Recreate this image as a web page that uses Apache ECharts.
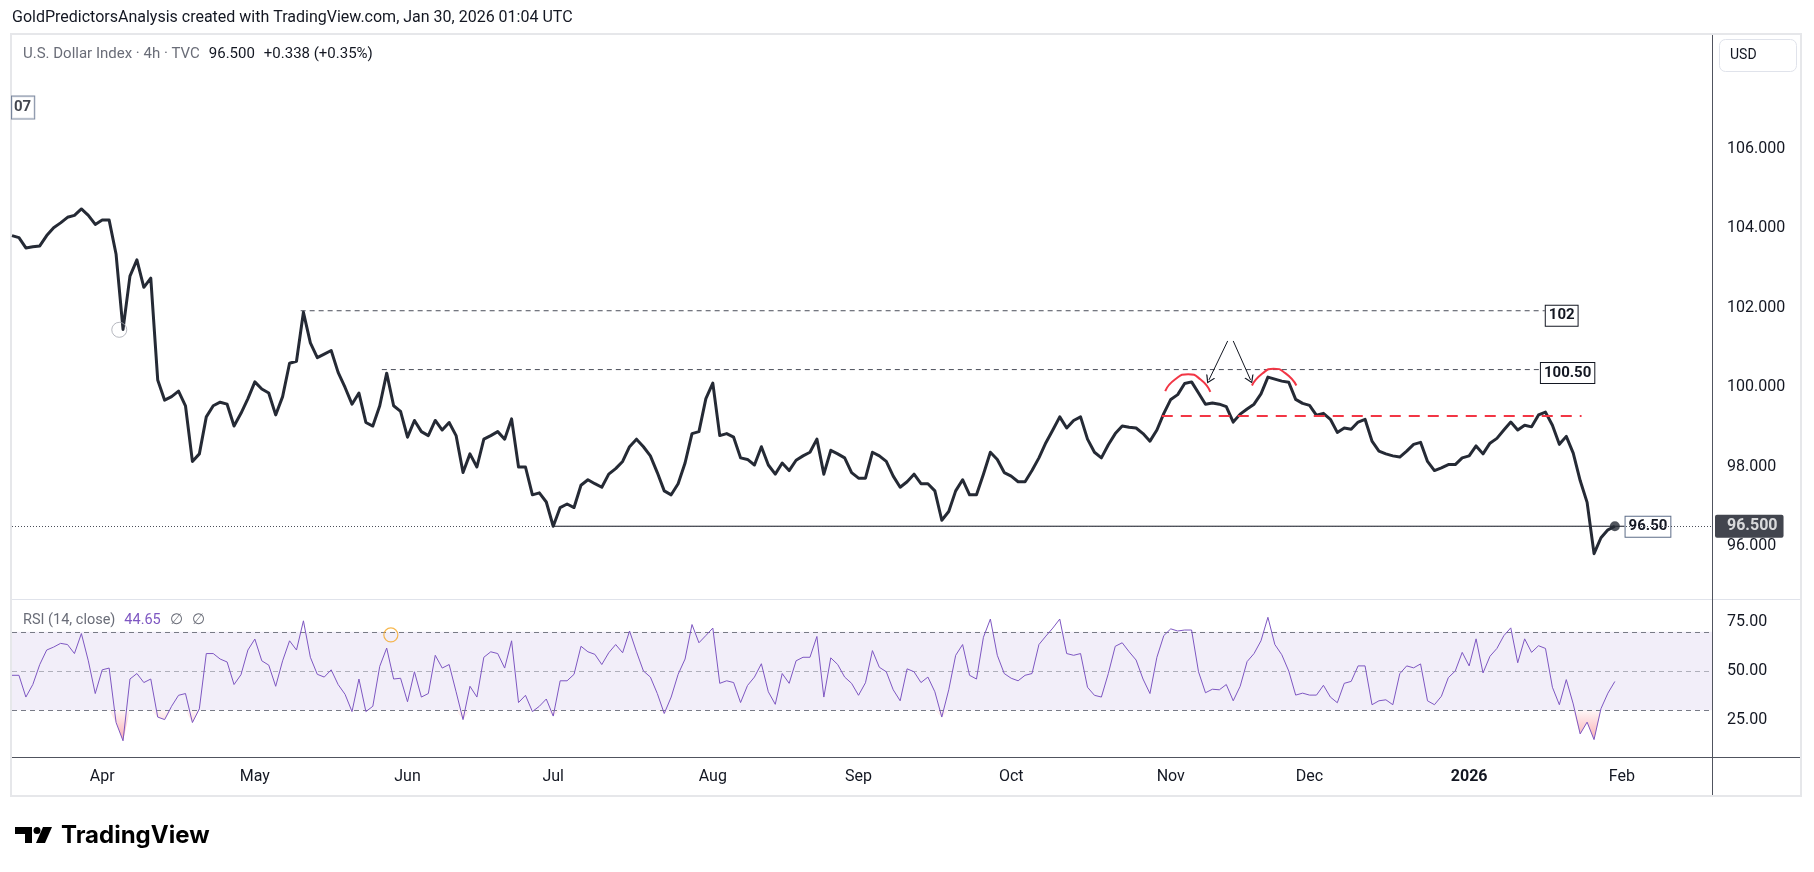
<!DOCTYPE html>
<html><head><meta charset="utf-8">
<script src="https://cdn.jsdelivr.net/npm/echarts@6/dist/echarts.min.js"></script>
<style>html,body{margin:0;padding:0;background:#fff;}#c{width:1814px;height:872px;}</style>
</head><body><div id="c"></div>
<script>
// ---------- data ----------
const firstDay = '2025-03-13';
const lastDay = '2026-02-19';
const monthNames = ['Jan','Feb','Mar','Apr','May','Jun','Jul','Aug','Sep','Oct','Nov','Dec'];
const closes = [
103.81,103.76,103.50,103.53,103.55,103.81,104.01,104.13,104.27,104.32,
104.48,104.32,104.09,104.20,104.20,103.34,101.45,102.79,103.20,102.51,
102.74,100.18,99.67,99.76,99.90,99.53,98.13,98.32,99.25,99.53,
99.62,99.57,99.02,99.34,99.71,100.13,99.95,99.85,99.30,99.76,
100.60,100.65,101.88,101.11,100.74,100.83,100.92,100.37,99.99,99.57,
99.85,99.11,99.02,99.53,100.35,99.53,99.39,98.74,99.16,98.88,
98.78,99.16,98.92,99.11,98.78,97.85,98.32,97.99,98.69,98.78,
98.88,98.69,99.20,97.99,97.99,97.29,97.34,97.11,96.50,96.97,
97.06,96.97,97.53,97.67,97.57,97.48,97.81,97.95,98.13,98.50,
98.69,98.50,98.27,97.85,97.39,97.29,97.57,98.09,98.83,98.88,
99.71,100.10,98.78,98.83,98.74,98.22,98.18,98.04,98.50,98.04,
97.81,98.09,97.90,98.16,98.27,98.36,98.69,97.81,98.41,98.32,
98.22,97.85,97.71,97.71,98.36,98.27,98.13,97.76,97.48,97.62,
97.81,97.57,97.57,97.39,96.65,96.87,97.39,97.67,97.29,97.29,
97.81,98.36,98.18,97.85,97.76,97.62,97.62,97.90,98.22,98.60,
98.92,99.25,98.97,99.16,99.25,98.69,98.36,98.22,98.55,98.83,
99.02,98.99,98.97,98.83,98.64,98.92,99.34,99.69,99.81,100.09,
100.13,99.85,99.57,99.60,99.57,99.51,99.12,99.32,99.45,99.57,
99.83,100.25,100.20,100.15,100.12,99.69,99.59,99.54,99.29,99.34,
99.19,98.86,98.97,98.94,99.12,99.19,98.64,98.39,98.32,98.27,
98.24,98.39,98.56,98.61,98.13,97.90,97.97,98.05,98.05,98.22,
98.27,98.52,98.32,98.59,98.71,98.92,99.12,98.92,99.04,99.00,
99.30,99.37,99.04,98.56,98.76,98.34,97.65,97.10,95.81,96.21,
96.41,96.50];
const rsi = [
47.8,47.8,36.7,43.1,53.3,60.7,62.2,64.1,63.5,58.9,
69.1,55.2,38.5,50.6,51.5,23.7,14.4,45.9,48.7,44.1,
45.9,26.5,25.2,32.0,37.6,38.5,23.7,30.7,58.9,58.9,
56.1,54.6,43.1,48.1,60.7,66.3,55.2,53.0,42.2,55.2,
65.4,60.7,75.6,57.0,48.3,46.9,50.6,43.1,38.1,29.3,
45.9,29.3,32.0,52.4,61.7,45.9,46.3,34.3,49.6,36.7,
38.5,58.0,51.5,53.3,39.4,25.2,42.2,36.7,57.0,59.8,
58.9,51.5,65.4,33.9,37.6,29.3,32.0,35.7,27.0,45.0,
45.0,48.3,62.6,59.8,58.5,53.3,59.3,63.5,59.3,70.4,
59.8,50.0,46.9,38.5,28.3,36.7,48.3,56.1,73.7,64.4,
68.1,71.9,43.7,45.0,44.1,33.9,42.6,46.9,53.7,39.4,
33.0,48.7,43.7,55.2,57.0,57.0,67.6,36.7,56.7,53.3,
46.9,43.7,37.6,44.0,60.4,51.9,49.6,40.4,34.8,51.1,
49.6,44.1,46.9,39.4,26.5,40.4,58.0,63.5,47.8,45.9,
67.2,76.5,58.0,48.7,46.3,45.0,47.8,48.7,63.5,67.8,
71.9,76.5,58.9,58.0,58.9,41.7,37.6,36.7,48.7,62.6,
64.4,59.8,55.6,45.9,38.5,57.0,68.1,71.5,70.4,70.9,
70.9,49.6,38.9,40.7,40.4,43.1,34.8,42.2,54.8,58.9,
65.4,77.4,63.5,58.3,50.0,37.7,38.7,37.7,37.7,42.7,
36.7,33.8,43.7,44.7,52.6,52.6,32.8,34.8,35.3,32.8,
48.6,52.6,51.6,53.6,34.8,32.8,37.1,46.6,50.0,59.5,
52.6,66.4,49.0,57.5,61.5,68.0,72.0,54.2,66.4,59.5,
62.9,61.5,41.7,32.8,45.6,33.2,17.9,23.9,15.0,30.8,
38.7,44.65];
const priceTicks = [96, 98, 100, 102, 104, 106];
const rsiTicks = [25, 50, 75];
const rsiBands = [70, 50, 30];
const lastPrice = 96.50;
const lastRsi = 44.65;
// drawn annotations (x in trading-day index, y in price / RSI units)
const levelLines = [
  {name: '102', y: 101.92, x0: 41.6, x1: 220.9},
  {name: '100.50', y: 100.44, x0: 53.3, x1: 220.2}
];
const supportLine = {name: '96.50', y: 96.50, x0: 78, x1: 232.4};
const neckline = {y: 99.27, x0: 165.7, x1: 226.2};
const arcs = [
  [[166.2, 99.90], [167.6, 100.19], [169.5, 100.32], [171.3, 100.19], [172.7, 99.88]],
  [[178.7, 100.04], [180.2, 100.34], [181.8, 100.46], [183.5, 100.35], [185.1, 100.04]]
];
const arrows = [
  [[175.2, 101.16], [172.5, 100.18]],
  [[176.0, 101.16], [178.5, 100.18]]
];
const priceCircle = [15.46, 101.44];
const rsiCircle = [54.6, 68.4];
const cutLabel = {text: '07', y: 107.03};

// ---------- build ----------
function tradingDays(a, b) {
  const out = []; const d = new Date(a + 'T00:00:00Z'); const e = new Date(b + 'T00:00:00Z');
  while (d <= e) { const w = d.getUTCDay(); if (w !== 0 && w !== 6) out.push(d.toISOString().slice(0, 10)); d.setUTCDate(d.getUTCDate() + 1); }
  return out;
}
const days = tradingDays(firstDay, lastDay);
const N = days.length;
const monthLabel = {};
for (let i = 1; i < N; i++) {
  if (days[i].slice(5, 7) !== days[i - 1].slice(5, 7)) {
    const m = +days[i].slice(5, 7) - 1;
    monthLabel[i] = m === 0 ? '{y|' + days[i].slice(0, 4) + '}' : monthNames[m];
  }
}
const FONT = 'Roboto, sans-serif';
const osBase = rsi.map(v => Math.min(v, 30));
const osFill = rsi.map(v => 30 - Math.min(v, 30));

const boxLabel = (txt, border, offY) => ({
  show: true, formatter: txt, distance: 1, offset: [0, offY],
  color: '#131722', fontFamily: FONT, fontWeight: 'bold', fontSize: 15, lineHeight: 17,
  padding: [2, 3, 1, 3], borderColor: border, borderWidth: 1, backgroundColor: '#fff'
});

const series = [
  {
    name: 'price', type: 'line', xAxisIndex: 0, yAxisIndex: 0, data: closes, showSymbol: false, z: 5,
    lineStyle: {color: '#252a35', width: 3, join: 'round'}, silent: true,
    markLine: {silent: true, symbol: 'none', label: {show: false},
      lineStyle: {color: '#4a4e59', type: [1, 2], width: 1}, data: [{yAxis: lastPrice}]}
  },
  {
    name: 'rsi', type: 'line', xAxisIndex: 1, yAxisIndex: 1, data: rsi, showSymbol: false, z: 5,
    lineStyle: {color: '#7e57c2', width: 1}, silent: true,
    markArea: {silent: true, itemStyle: {color: 'rgba(126,87,194,0.1)'}, data: [[{yAxis: rsiBands[2]}, {yAxis: rsiBands[0]}]]},
    markLine: {silent: true, symbol: 'none', label: {show: false}, data: rsiBands.map((b, k) => ({
      yAxis: b, lineStyle: {color: k === 1 ? 'rgba(120,123,134,0.55)' : '#787b86', type: [5, 4], width: 1}}))}
  },
  {name: 'osBase', type: 'line', xAxisIndex: 1, yAxisIndex: 1, stack: 'os', data: osBase, showSymbol: false,
    lineStyle: {opacity: 0}, silent: true, z: 3},
  {name: 'osFill', type: 'line', xAxisIndex: 1, yAxisIndex: 1, stack: 'os', data: osFill, showSymbol: false,
    lineStyle: {opacity: 0}, silent: true, z: 3,
    areaStyle: {opacity: 1, color: {type: 'linear', x: 0, y: 0, x2: 0, y2: 1, colorStops: [
      {offset: 0, color: 'rgba(242,54,69,0.04)'}, {offset: 1, color: 'rgba(242,54,69,0.42)'}]}}}
];
levelLines.forEach((l, k) => series.push({
  type: 'line', xAxisIndex: 2, yAxisIndex: 0, data: [[l.x0, l.y], [l.x1, l.y]], showSymbol: false, silent: true, z: 4,
  lineStyle: {color: '#4a4e59', width: 1, type: [5, 4]},
  endLabel: boxLabel(l.name, '#131722', k === 0 ? 5 : 3.5)
}));
series.push({
  type: 'line', xAxisIndex: 2, yAxisIndex: 0, data: [[supportLine.x0, supportLine.y], [supportLine.x1, supportLine.y]],
  showSymbol: false, silent: true, z: 4, lineStyle: {color: '#131722', width: 1},
  endLabel: boxLabel(supportLine.name, '#5d6d88', 0.5)
});
series.push({
  type: 'line', xAxisIndex: 2, yAxisIndex: 0, data: [[neckline.x0, neckline.y], [neckline.x1, neckline.y]],
  showSymbol: false, silent: true, z: 6, lineStyle: {color: '#f23645', width: 2, type: [11, 8]},
  markLine: {silent: true, symbol: ['none', 'path://M0,10 L5,0 L10,10 L8.6,10 L5,2.8 L1.4,10 Z'], symbolSize: [10, 8],
    label: {show: false}, lineStyle: {color: '#131722', width: 1, type: 'solid'},
    data: arrows.map(a => [{coord: a[0]}, {coord: a[1]}])}
});
arcs.forEach(a => series.push({
  type: 'line', xAxisIndex: 2, yAxisIndex: 0, data: a, smooth: 0.6, showSymbol: false, silent: true, z: 6,
  lineStyle: {color: '#f23645', width: 2}
}));
series.push({
  type: 'scatter', xAxisIndex: 2, yAxisIndex: 0, data: [priceCircle], symbol: 'circle', symbolSize: 15, silent: true, z: 6,
  itemStyle: {color: 'rgba(0,0,0,0)', borderColor: '#a5a8b0', borderWidth: 1}
});
series.push({
  type: 'scatter', xAxisIndex: 3, yAxisIndex: 1, data: [rsiCircle], symbol: 'circle', symbolSize: 14, silent: true, z: 6,
  itemStyle: {color: 'rgba(0,0,0,0)', borderColor: '#f5a623', borderWidth: 1.2}
});
series.push({
  type: 'scatter', xAxisIndex: 2, yAxisIndex: 0, data: [[closes.length - 1, lastPrice]], symbolSize: 10, silent: true, z: 7,
  itemStyle: {color: '#252a35'}
});
series.push({
  type: 'scatter', xAxisIndex: 2, yAxisIndex: 0, data: [[N - 1, lastPrice]], symbolSize: 0, silent: true, z: 8, clip: false,
  label: {show: true, position: 'right', distance: 3, formatter: lastPrice.toFixed(3), color: '#fff', backgroundColor: '#131722',
    fontFamily: FONT, fontWeight: 'bold', fontSize: 16, lineHeight: 17, padding: [3, 6, 3, 12], borderRadius: 2}
});
series.push({
  type: 'scatter', xAxisIndex: 2, yAxisIndex: 0, data: [[0, cutLabel.y]], symbolSize: 0, silent: true, z: 8, clip: false,
  label: {show: true, position: 'right', distance: 0, formatter: cutLabel.text, color: '#131722', backgroundColor: '#fff',
    fontFamily: FONT, fontWeight: 'bold', fontSize: 15, lineHeight: 18, padding: [2, 3, 2, 2], borderColor: '#5d6d88', borderWidth: 1}
});

const option = {
  animation: false,
  backgroundColor: '#fff',
  textStyle: {fontFamily: FONT},
  title: [
    {text: 'GoldPredictorsAnalysis created with TradingView.com, Jan 30, 2026 01:04 UTC', left: 12, top: 10, padding: 0,
      textStyle: {fontFamily: FONT, fontSize: 16, fontWeight: 'normal', color: '#131722'}},
    {text: '{g|U.S. Dollar Index · 4h · TVC}  {d|' + lastPrice.toFixed(3) + '}  {d|+0.338 (+0.35%)}', left: 23, top: 45, padding: 0,
      textStyle: {fontWeight: 'normal', rich: {g: {fontFamily: FONT, fontSize: 15, fontWeight: 'normal', color: '#6a6d78'}, d: {fontFamily: FONT, fontSize: 15, fontWeight: 'normal', color: '#131722'}}}},
    {text: '{g|RSI (14, close)}  {p|' + lastRsi.toFixed(2) + '}  {g|∅}  {g|∅}', left: 23, top: 611, padding: 0,
      textStyle: {fontWeight: 'normal', rich: {g: {fontFamily: FONT, fontSize: 14.5, fontWeight: 'normal', color: '#6a6d78'}, p: {fontFamily: FONT, fontSize: 14.5, fontWeight: 'normal', color: '#7e57c2'}}}}
  ],
  grid: [
    {left: 12, top: 36, width: 1700, height: 563},
    {left: 12, top: 599, width: 1700, height: 158}
  ],
  xAxis: [
    {type: 'category', gridIndex: 0, data: days, boundaryGap: false, show: false},
    {type: 'category', gridIndex: 1, data: days, boundaryGap: false,
      axisLine: {show: false}, axisTick: {show: false}, splitLine: {show: false},
      axisLabel: {interval: (i) => monthLabel[i] !== undefined, formatter: (v, i) => monthLabel[i] || '',
        margin: 12, fontSize: 16, color: '#131722', fontFamily: FONT,
        rich: {y: {fontSize: 16, fontWeight: 'bold', color: '#131722', fontFamily: FONT}}}},
    {type: 'value', gridIndex: 0, min: 0, max: N - 1, show: false},
    {type: 'value', gridIndex: 1, min: 0, max: N - 1, show: false}
  ],
  yAxis: [
    {type: 'value', gridIndex: 0, position: 'right', min: 94.67, max: 108.83, scale: true,
      splitLine: {show: false}, axisLine: {show: false}, axisTick: {show: false},
      axisLabel: {customValues: priceTicks, formatter: v => v.toFixed(3), fontSize: 16, color: '#131722', margin: 15, fontFamily: FONT}},
    {type: 'value', gridIndex: 1, position: 'right', min: 6.12, max: 86.73, scale: true,
      splitLine: {show: false}, axisLine: {show: false}, axisTick: {show: false},
      axisLabel: {customValues: rsiTicks, formatter: v => v.toFixed(2), fontSize: 16, color: '#131722', margin: 15, fontFamily: FONT}}
  ],
  graphic: [
    {type: 'rect', silent: true, z: 0, shape: {x: 11, y: 34, width: 1790, height: 762}, style: {fill: 'none', stroke: '#e6e7ea', lineWidth: 2}},
    {type: 'line', silent: true, shape: {x1: 12, y1: 599.5, x2: 1800, y2: 599.5}, style: {stroke: '#e0e3eb', lineWidth: 1}},
    {type: 'line', silent: true, shape: {x1: 12, y1: 757.5, x2: 1800, y2: 757.5}, style: {stroke: '#50535e', lineWidth: 1}},
    {type: 'line', silent: true, shape: {x1: 1712.5, y1: 35, x2: 1712.5, y2: 795}, style: {stroke: '#50535e', lineWidth: 1}},
    {type: 'rect', silent: true, shape: {x: 1719.5, y: 39.5, width: 77, height: 32, r: 6}, style: {fill: '#fff', stroke: '#e0e3eb', lineWidth: 1}},
    {type: 'text', silent: true, x: 1730, y: 55, style: {text: 'USD', fontFamily: FONT, fontSize: 14, fill: '#131722', verticalAlign: 'middle'}},
    {type: 'group', silent: true, x: 15, y: 827, children: [
      {type: 'rect', shape: {x: 0, y: 0, width: 17, height: 7}, style: {fill: '#000'}},
      {type: 'rect', shape: {x: 10, y: 0, width: 7, height: 16}, style: {fill: '#000'}},
      {type: 'circle', shape: {cx: 22, cy: 3.5, r: 3.5}, style: {fill: '#000'}},
      {type: 'polygon', shape: {points: [[28, 0], [37, 0], [30, 16], [21, 16]]}, style: {fill: '#000'}}
    ]},
    {type: 'text', silent: true, x: 61, y: 836, style: {text: 'TradingView', fontFamily: 'Inter, sans-serif', fontWeight: 'bold', fontSize: 24, fill: '#000', verticalAlign: 'middle'}}
  ],
  series: series
};
const chart = echarts.init(document.getElementById('c'), null, {renderer: 'canvas'});
chart.setOption(option);
</script>
</body></html>
